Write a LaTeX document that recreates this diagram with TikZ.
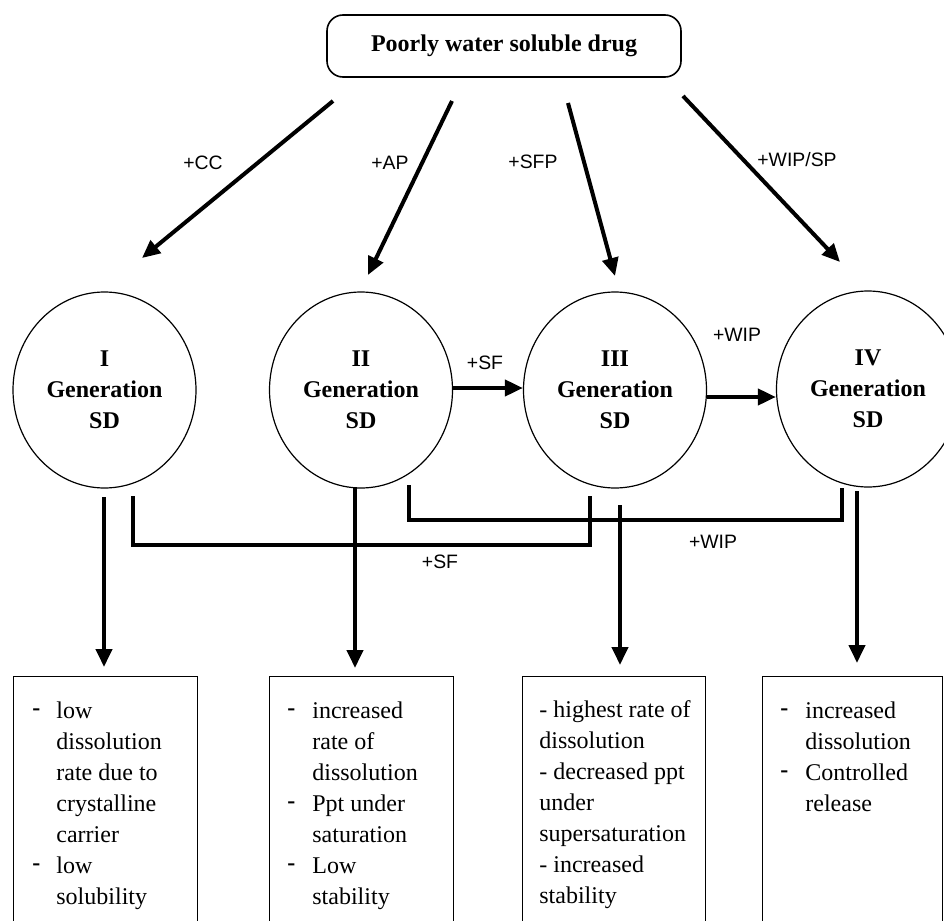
\documentclass[tikz,border=0pt]{standalone}
\usepackage{fontspec}
\setmainfont{Liberation Serif}
\newfontfamily\labelfont{Liberation Sans}
\usetikzlibrary{arrows.meta,shapes.geometric}
\begin{document}
\begin{tikzpicture}[x=0.5pt,y=-0.5pt,
  titlebox/.style={draw, line width=0.8pt, rounded corners=8pt, minimum width=177pt, minimum height=31pt, inner sep=0pt, font=\fontsize{12}{14}\selectfont\bfseries},
  gen/.style={draw, line width=0.6pt, ellipse, minimum width=91.5pt, minimum height=98pt, inner sep=0pt, align=center, font=\fontsize{12}{15.5}\selectfont\bfseries},
  arr/.style={line width=2pt, -{Triangle[length=9pt,width=8pt]}},
  link/.style={line width=2pt},
  lab/.style={font=\labelfont\fontsize{9.7}{11}\selectfont, inner sep=0pt},
  resbox/.style={draw, line width=0.6pt, anchor=north west, inner sep=0pt},
  restext/.style={anchor=base west, inner sep=0pt, font=\fontsize{12}{15.5}\selectfont}
]
\useasboundingbox (0,0) rectangle (944,921);
\begin{scope}
\clip (0,0) rectangle (944,921);

% top node
\node[titlebox] (drug) at (504,46) {Poorly water soluble drug};

% generations
\node[gen] (g1) at (104.5,390) {I\\Generation\\SD};
\node[gen] (g2) at (361,390) {II\\Generation\\SD};
\node[gen] (g3) at (615,390) {III\\Generation\\SD};
\node[gen] (g4) at (868,389) {IV\\Generation\\SD};

% top arrows
\coordinate (a1s) at (333,101); \coordinate (a1e) at (142,258);
\coordinate (a2s) at (452,101); \coordinate (a2e) at (368,275);
\coordinate (a3s) at (568,103); \coordinate (a3e) at (615,276);
\coordinate (a4s) at (683,96);  \coordinate (a4e) at (840,262);
\draw[arr] (a1s) -- (a1e);
\draw[arr] (a2s) -- (a2e);
\draw[arr] (a3s) -- (a3e);
\draw[arr] (a4s) -- (a4e);
\node[lab] (lcc) at (203,163) {+CC};
\node[lab] (lap) at (390,163) {+AP};
\node[lab] (lsfp) at (533,162) {+SFP};
\node[lab] (lwipsp) at (797,160) {+WIP/SP};

% horizontal arrows
\draw[arr] (g2.east |- 0,388) -- (g3.west |- 0,388);
\draw[arr] (g3.east |- 0,397) -- (g4.west |- 0,397);
\node[lab] (lsf1) at (485,363) {+SF};
\node[lab] (lwip1) at (737,335) {+WIP};

% elbow links
\coordinate (l1s) at (133,496); \coordinate (l1e) at (590,496);
\coordinate (l2s) at (409,485); \coordinate (l2e) at (842,488);
\draw[link] (l1s) -- ++(0,49) -| (l1e);
\draw[link] (l2s) -- ++(0,35) -| (l2e);
\node[lab] (lsf2) at (440,562) {+SF};
\node[lab] (lwip2) at (713,542) {+WIP};

% result boxes
\node[resbox, minimum width=92pt, minimum height=135pt] (b1) at (13,676) {};
\node[resbox, minimum width=92pt, minimum height=135pt] (b2) at (269,676) {};
\node[resbox, minimum width=91.5pt, minimum height=135pt] (b3) at (522,676) {};
\node[resbox, minimum width=90pt, minimum height=135pt] (b4) at (762,676) {};

% down arrows
\coordinate (d1s) at (104,497); \coordinate (d1e) at (104,667);
\coordinate (d2s) at (355,487); \coordinate (d2e) at (355,668);
\coordinate (d3s) at (620,505); \coordinate (d3e) at (620,665);
\coordinate (d4s) at (857,491); \coordinate (d4e) at (857,663);
\draw[arr] (d1s) -- (d1e);
\draw[arr] (d2s) -- (d2e);
\draw[arr] (d3s) -- (d3e);
\draw[arr] (d4s) -- (d4e);

% result texts
\node[restext] (t1) at (32,718) {\begin{tabular}[t]{@{}p{12pt}@{}l@{}}
\raisebox{1.5pt}{\textbf{-}} & low\\
 & dissolution\\
 & rate due to\\
 & crystalline\\
 & carrier\\
\raisebox{1.5pt}{\textbf{-}} & low\\
 & solubility
\end{tabular}};
\node[restext] (t2) at (287,718) {\begin{tabular}[t]{@{}p{12.5pt}@{}l@{}}
\raisebox{1.5pt}{\textbf{-}} & increased\\
 & rate of\\
 & dissolution\\
\raisebox{1.5pt}{\textbf{-}} & Ppt under\\
 & saturation\\
\raisebox{1.5pt}{\textbf{-}} & Low\\
 & stability
\end{tabular}};
\node[restext] (t3) at (539,717) {\begin{tabular}[t]{@{}l@{}}
- highest rate of\\
dissolution\\
- decreased ppt\\
under\\
supersaturation\\
- increased\\
stability
\end{tabular}};
\node[restext] (t4) at (780,718) {\begin{tabular}[t]{@{}p{12.5pt}@{}l@{}}
\raisebox{1.5pt}{\textbf{-}} & increased\\
 & dissolution\\
\raisebox{1.5pt}{\textbf{-}} & Controlled\\
 & release
\end{tabular}};
\end{scope}
\end{tikzpicture}
\end{document}
